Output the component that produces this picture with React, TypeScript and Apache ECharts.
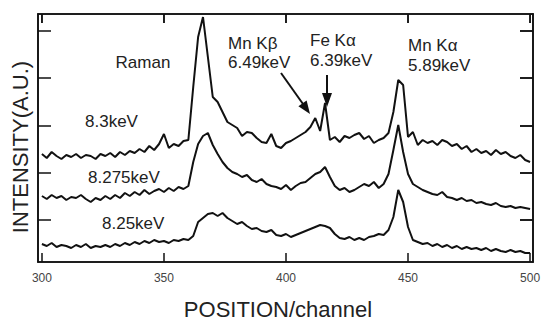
import React, { useEffect, useRef } from "react";
import * as echarts from "echarts";

// channels 300..500 step 2
const channels: number[] = [];
for (let c = 300; c <= 500; c += 2) channels.push(c);

// INTENSITY (a.u.), offset traces
const trace83: number[] = [
  108, 104, 110, 106, 103, 107, 105, 108, 104, 107,
  106, 103, 108, 106, 109, 105, 110, 107, 111, 109,
  113, 110, 116, 112, 118, 128, 114, 118, 116, 121,
  122, 175, 225, 245, 205, 165, 160, 150, 140, 137,
  134, 126, 130, 129, 124, 120, 119, 128, 116, 114,
  119, 121, 124, 127, 130, 135, 144, 131, 159, 122,
  125, 120, 126, 124, 127, 129, 123, 126, 119, 122,
  124, 129, 150, 182, 177, 125, 130, 117, 122, 119,
  121, 117, 122, 120, 116, 118, 113, 116, 110, 113,
  109, 111, 107, 112, 108, 110, 106, 104, 107, 102,
  100,
];

const trace8275: number[] = [
  66, 63, 67, 64, 66, 62, 65, 64, 67, 63,
  60, 64, 62, 66, 63, 67, 64, 69, 66, 70,
  67, 72, 68, 71, 73, 70, 74, 71, 75, 73,
  76, 100, 118, 126, 129, 117, 108, 100, 94, 90,
  88, 85, 87, 82, 80, 83, 78, 76, 75, 73,
  77, 72, 76, 79, 80, 84, 88, 90, 95, 85,
  76, 72, 74, 70, 72, 75, 78, 76, 80, 74,
  78, 88, 112, 137, 110, 88, 78, 75, 72, 70,
  68, 67, 70, 65, 64, 62, 64, 61, 62, 59,
  60, 58, 57, 59, 56, 55, 56, 54, 55, 54,
  53,
];

const trace825: number[] = [
  18, 16, 19, 15, 17, 16, 14, 17, 15, 18,
  14, 16, 15, 17, 15, 18, 16, 19, 17, 20,
  18, 21, 19, 22, 20, 21, 19, 22, 21, 23,
  22, 26, 40, 44, 48, 49, 46, 49, 44, 41,
  38, 40, 36, 33, 34, 31, 30, 32, 27, 26,
  28, 25, 27, 29, 31, 33, 35, 37, 36, 34,
  28, 24, 23, 25, 22, 24, 22, 25, 26, 28,
  27, 32, 45, 72, 60, 35, 22, 20, 18, 19,
  16, 18, 15, 17, 14, 16, 13, 15, 13, 14,
  12, 14, 11, 13, 11, 10, 12, 10, 11, 9,
  9,
];

const xTickValues = [300, 350, 400, 450, 500];
const yTickValues = [42, 89, 136, 184, 231];
const X_MIN = 298.4;
const X_MAX = 501.2;
const Y_MIN = 0;
const Y_MAX = 248;

const FONT = "Liberation Sans";

export default function App() {
  const ref = useRef<HTMLDivElement>(null);
  useEffect(() => {
    if (!ref.current) return;
    const chart = echarts.init(ref.current, undefined, { renderer: "svg" });
    const pair = (ys: number[]) => channels.map((c, i) => [c, ys[i]]);
    const axisLine = () => ({
      show: true,
      onZero: false,
      lineStyle: { color: "#111", width: 1.6 },
    });
    const tick = (length: number, values: number[]) => ({
      show: true,
      inside: true,
      length,
      customValues: values,
      lineStyle: { color: "#111", width: 1.5 },
    });
    const lineSeries = (name: string, ys: number[], axis: number) => ({
      name,
      type: "line",
      data: pair(ys),
      showSymbol: false,
      symbol: "none",
      lineStyle: { color: "#111", width: 2 },
      xAxisIndex: axis,
      yAxisIndex: axis,
    });
    const txt = (text: string, x: number, y: number, size = 17, align = "left") => ({
      type: "text",
      x,
      y,
      style: {
        text,
        fill: "#222",
        font: `${size}px "${FONT}"`,
        textAlign: align,
        textVerticalAlign: "middle",
      },
    });
    const frameSeries = {
      type: "custom",
      name: "frame",
      coordinateSystem: "cartesian2d",
      xAxisIndex: 0,
      yAxisIndex: 0,
      clip: false,
      silent: true,
      z: 5,
      data: [[X_MIN, Y_MIN]],
      renderItem: (_params: any, api: any) => {
        const tl = api.coord([X_MIN, Y_MAX]);
        const br = api.coord([X_MAX, Y_MIN]);
        const children: any[] = [
          {
            type: "rect",
            shape: { x: tl[0], y: tl[1], width: br[0] - tl[0], height: br[1] - tl[1] },
            style: { fill: "none", stroke: "#111", lineWidth: 1.6 },
          },
        ];
        xTickValues.forEach((v) => {
          const p = api.coord([v, Y_MAX]);
          children.push({
            type: "line",
            shape: { x1: p[0], y1: tl[1], x2: p[0], y2: tl[1] + 9 },
            style: { stroke: "#111", lineWidth: 1.5 },
          });
        });
        yTickValues.forEach((v) => {
          const p = api.coord([X_MAX, v]);
          children.push({
            type: "line",
            shape: { x1: br[0], y1: p[1], x2: br[0] - 13, y2: p[1] },
            style: { stroke: "#111", lineWidth: 1.5 },
          });
        });
        return { type: "group", children };
      },
    };
    chart.setOption({
      animation: false,
      backgroundColor: "#fff",
      grid: { left: 38, right: 12, top: 14, bottom: 62, containLabel: false },
      xAxis: [
        {
          type: "value",
          position: "bottom",
          min: X_MIN,
          max: X_MAX,
          axisLine: axisLine(),
          splitLine: { show: false },
          axisTick: tick(9, xTickValues),
          axisLabel: {
            show: true,
            customValues: xTickValues,
            color: "#444",
            fontFamily: FONT,
            fontSize: 12,
            margin: 10,
          },
        },
        {
          type: "value",
          position: "top",
          min: X_MIN,
          max: X_MAX,
          axisLine: axisLine(),
          splitLine: { show: false },
          axisTick: tick(9, xTickValues),
          axisLabel: { show: false },
        },
      ],
      yAxis: [
        {
          type: "value",
          position: "left",
          min: Y_MIN,
          max: Y_MAX,
          axisLine: axisLine(),
          splitLine: { show: false },
          axisTick: tick(13, yTickValues),
          axisLabel: { show: false },
        },
        {
          type: "value",
          position: "right",
          min: Y_MIN,
          max: Y_MAX,
          axisLine: axisLine(),
          splitLine: { show: false },
          axisTick: tick(13, yTickValues),
          axisLabel: { show: false },
        },
      ],
      series: [
        lineSeries("8.3keV", trace83, 1),
        lineSeries("8.275keV", trace8275, 0),
        lineSeries("8.25keV", trace825, 0),
        frameSeries,
      ],
      graphic: [
        txt("POSITION/channel", 278, 309, 22, "center"),
        {
          type: "text",
          x: 20,
          y: 147,
          rotation: Math.PI / 2,
          style: {
            text: "INTENSITY(A.U.)",
            fill: "#222",
            font: `22px "${FONT}"`,
            textAlign: "center",
            textVerticalAlign: "middle",
          },
        },
        txt("Raman", 143, 62, 17, "center"),
        txt("Mn Kβ", 228, 43),
        txt("6.49keV", 228, 62),
        txt("Fe Kα", 310, 40),
        txt("6.39keV", 310, 60),
        txt("Mn Kα", 408, 45),
        txt("5.89keV", 408, 65),
        txt("8.3keV", 85, 121),
        txt("8.275keV", 88, 177),
        txt("8.25keV", 102, 223),
        {
          type: "line",
          shape: { x1: 281, y1: 73, x2: 303, y2: 104 },
          style: { stroke: "#111", lineWidth: 2 },
        },
        {
          type: "polygon",
          shape: { points: [[310, 114], [298.4, 106.3], [306.6, 100.5]] },
          style: { fill: "#111" },
        },
        {
          type: "line",
          shape: { x1: 327, y1: 75, x2: 327, y2: 95 },
          style: { stroke: "#111", lineWidth: 2 },
        },
        {
          type: "polygon",
          shape: { points: [[327, 107], [322, 93], [332, 93]] },
          style: { fill: "#111" },
        },
      ],
    });
    return () => chart.dispose();
  }, []);
  return (
    <div
      ref={ref}
      style={{ position: "fixed", left: 0, top: 0, width: 545, height: 324 }}
    />
  );
}
